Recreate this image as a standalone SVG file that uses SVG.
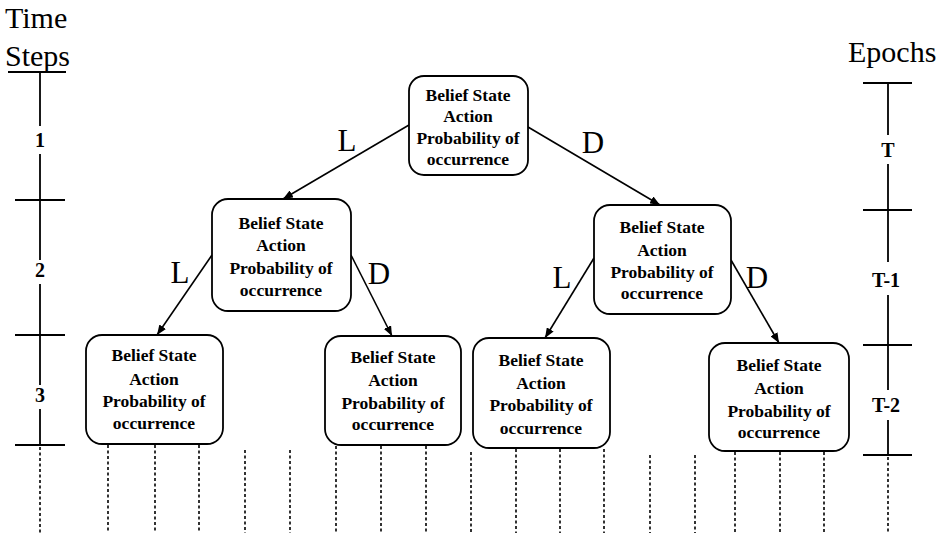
<svg xmlns="http://www.w3.org/2000/svg" width="941" height="536" viewBox="0 0 941 536">
  <style>
    .box { fill: #ffffff; stroke: #000000; stroke-width: 1.8; }
    .nt { font-family: "Liberation Serif", "Times New Roman", serif; font-weight: bold; font-size: 17.5px; text-anchor: middle; fill: #000; }
    .edge { stroke: #000; stroke-width: 1.6; fill: none; marker-end: url(#arrow); }
    .elab { font-family: "Liberation Serif", "Times New Roman", serif; font-size: 31px; text-anchor: middle; fill: #000; }
    .axis { stroke: #000; stroke-width: 1.8; fill: none; }
    .alab { font-family: "Liberation Serif", "Times New Roman", serif; font-weight: bold; font-size: 20px; text-anchor: middle; fill: #000; }
    .head { font-family: "Liberation Serif", "Times New Roman", serif; font-size: 30px; fill: #000; }
    .dots { stroke: #000; stroke-width: 1.6; stroke-dasharray: 3 2.5; fill: none; }
  </style>
  <defs>
    <marker id="arrow" viewBox="0 0 10 8" refX="10" refY="4" markerWidth="10" markerHeight="8" markerUnits="userSpaceOnUse" orient="auto">
      <path d="M0,0 L10,4 L0,8 Z" fill="#000"/>
    </marker>
  </defs>

  <!-- axis headings -->
  <g id="time-steps-axis">
    <text class="head" x="5" y="28">Time</text>
    <text class="head" x="5" y="66">Steps</text>
    <line class="axis" x1="8" y1="72" x2="66" y2="72"/>
    <line class="axis" x1="40" y1="72" x2="40" y2="126"/>
    <text class="alab" x="40" y="147">1</text>
    <line class="axis" x1="40" y1="154" x2="40" y2="260"/>
    <line class="axis" x1="15" y1="200" x2="65" y2="200"/>
    <text class="alab" x="40" y="277">2</text>
    <line class="axis" x1="40" y1="284" x2="40" y2="385"/>
    <line class="axis" x1="15" y1="335" x2="65" y2="335"/>
    <text class="alab" x="40" y="402">3</text>
    <line class="axis" x1="40" y1="409" x2="40" y2="445"/>
    <line class="axis" x1="15" y1="445" x2="65" y2="445"/>
  </g>

  <g id="epochs-axis">
    <text class="head" x="848" y="62">Epochs</text>
    <line class="axis" x1="863" y1="83" x2="912" y2="83"/>
    <line class="axis" x1="888" y1="83" x2="888" y2="135"/>
    <text class="alab" x="888" y="157">T</text>
    <line class="axis" x1="888" y1="164" x2="888" y2="262"/>
    <line class="axis" x1="863" y1="210" x2="912" y2="210"/>
    <text class="alab" x="886" y="287">T-1</text>
    <line class="axis" x1="888" y1="295" x2="888" y2="390"/>
    <line class="axis" x1="863" y1="345" x2="912" y2="345"/>
    <text class="alab" x="886" y="412">T-2</text>
    <line class="axis" x1="888" y1="420" x2="888" y2="455"/>
    <line class="axis" x1="863" y1="455" x2="912" y2="455"/>
  </g>

  <!-- connectors -->
  <g id="connectors">
    <line class="edge" x1="409" y1="125" x2="283" y2="199"/>
    <line class="edge" x1="528" y1="127" x2="660" y2="205"/>
    <line class="edge" x1="212" y1="255" x2="157" y2="335"/>
    <line class="edge" x1="351" y1="255" x2="392" y2="336"/>
    <line class="edge" x1="594" y1="258" x2="545" y2="338"/>
    <line class="edge" x1="731" y1="260" x2="779" y2="343"/>
    <text class="elab" x="347" y="151">L</text>
    <text class="elab" x="593" y="153">D</text>
    <text class="elab" x="180" y="283">L</text>
    <text class="elab" x="379" y="284">D</text>
    <text class="elab" x="562" y="288">L</text>
    <text class="elab" x="757" y="288">D</text>
  </g>

  <!-- continuation lines below the last level -->
  <g id="continuations">
    <line class="dots" x1="40" y1="447" x2="40" y2="533"/>
    <line class="dots" x1="108" y1="445" x2="108" y2="533"/>
    <line class="dots" x1="155" y1="445" x2="155" y2="533"/>
    <line class="dots" x1="199" y1="445" x2="199" y2="533"/>
    <line class="dots" x1="245" y1="450" x2="245" y2="533"/>
    <line class="dots" x1="290" y1="450" x2="290" y2="533"/>
    <line class="dots" x1="336" y1="446" x2="336" y2="533"/>
    <line class="dots" x1="381" y1="446" x2="381" y2="533"/>
    <line class="dots" x1="426" y1="446" x2="426" y2="533"/>
    <line class="dots" x1="471" y1="452" x2="471" y2="533"/>
    <line class="dots" x1="516" y1="449" x2="516" y2="533"/>
    <line class="dots" x1="560" y1="449" x2="560" y2="533"/>
    <line class="dots" x1="604" y1="449" x2="604" y2="533"/>
    <line class="dots" x1="650" y1="455" x2="650" y2="533"/>
    <line class="dots" x1="695" y1="455" x2="695" y2="533"/>
    <line class="dots" x1="735" y1="452" x2="735" y2="533"/>
    <line class="dots" x1="780" y1="452" x2="780" y2="533"/>
    <line class="dots" x1="824" y1="452" x2="824" y2="533"/>
    <line class="dots" x1="888" y1="457" x2="888" y2="533"/>
  </g>

  <!-- decision nodes -->
  <g id="node-root">
    <rect class="box" x="409" y="76" width="119" height="99" rx="15"/>
    <text class="nt" x="468" y="101">Belief State</text>
    <text class="nt" x="468" y="122">Action</text>
    <text class="nt" x="468" y="144">Probability of</text>
    <text class="nt" x="468" y="165">occurrence</text>
  </g>
  <g id="node-L">
    <rect class="box" x="212" y="199" width="139" height="112" rx="16"/>
    <text class="nt" x="281" y="229">Belief State</text>
    <text class="nt" x="281" y="251">Action</text>
    <text class="nt" x="281" y="274">Probability of</text>
    <text class="nt" x="281" y="296">occurrence</text>
  </g>
  <g id="node-D">
    <rect class="box" x="594" y="205" width="137" height="109" rx="16"/>
    <text class="nt" x="662" y="233">Belief State</text>
    <text class="nt" x="662" y="256">Action</text>
    <text class="nt" x="662" y="278">Probability of</text>
    <text class="nt" x="662" y="299">occurrence</text>
  </g>
  <g id="node-LL">
    <rect class="box" x="86" y="335" width="137" height="109" rx="16"/>
    <text class="nt" x="154" y="361">Belief State</text>
    <text class="nt" x="154" y="385">Action</text>
    <text class="nt" x="154" y="407">Probability of</text>
    <text class="nt" x="154" y="429">occurrence</text>
  </g>
  <g id="node-LD">
    <rect class="box" x="325" y="336" width="136" height="109" rx="16"/>
    <text class="nt" x="393" y="363">Belief State</text>
    <text class="nt" x="393" y="386">Action</text>
    <text class="nt" x="393" y="409">Probability of</text>
    <text class="nt" x="393" y="430">occurrence</text>
  </g>
  <g id="node-DL">
    <rect class="box" x="473" y="338" width="137" height="110" rx="16"/>
    <text class="nt" x="541" y="366">Belief State</text>
    <text class="nt" x="541" y="389">Action</text>
    <text class="nt" x="541" y="411">Probability of</text>
    <text class="nt" x="541" y="434">occurrence</text>
  </g>
  <g id="node-DD">
    <rect class="box" x="709" y="343" width="140" height="108" rx="16"/>
    <text class="nt" x="779" y="371">Belief State</text>
    <text class="nt" x="779" y="394">Action</text>
    <text class="nt" x="779" y="417">Probability of</text>
    <text class="nt" x="779" y="438">occurrence</text>
  </g>
</svg>
